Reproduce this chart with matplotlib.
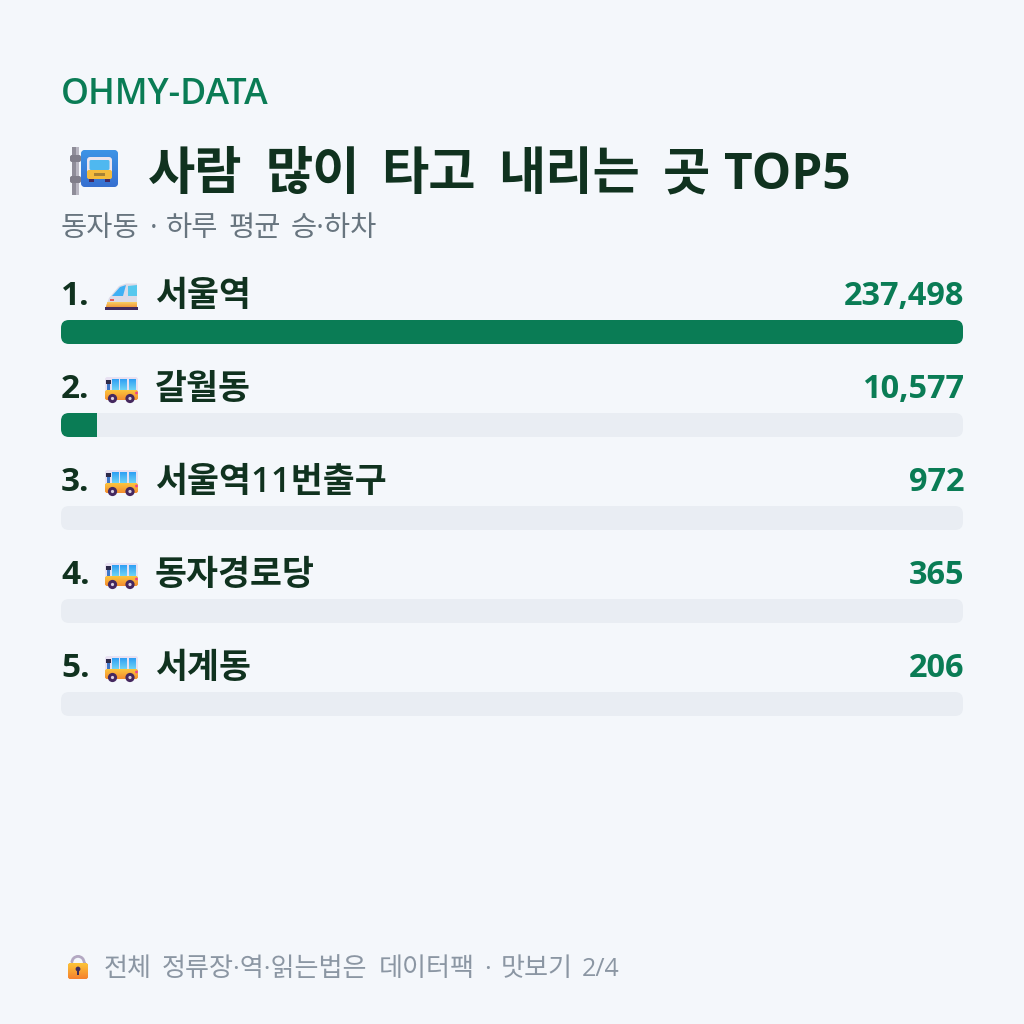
import numpy as np
import matplotlib
matplotlib.use("Agg")
import matplotlib.pyplot as plt
from matplotlib.colors import LinearSegmentedColormap
from matplotlib.patches import FancyBboxPatch, Rectangle, Circle, Polygon, Wedge

plt.rcParams['font.family'] = ['Open Sans', 'Noto Sans CJK KR', 'DejaVu Sans']

names = ['서울역', '갈월동', '서울역11번출구', '동자경로당', '서계동']
riders = [237498, 10577, 972, 365, 206]
ranks = ['1.', '2.', '3.', '4.', '5.']
brand = 'OHMY-DATA'
title_words = ['사람', '많이', '타고', '내리는', '곳', 'TOP5']
subtitle_words = ['동자동', '·', '하루', '평균', '승·하차']
footer_words = ['전체', '정류장·역·읽는법은', '데이터팩', '·', '맛보기', '2/4']

BG = '#f4f7fb'
GREEN = '#0a7c55'
DARK = '#10321f'
GREY = '#68757f'
TRACK = '#e9edf3'
LEFT, RIGHT = 61, 963
BAR_TOPS = [320, 413, 506, 599, 692]
BAR_H = 24

fig = plt.figure(figsize=(10.24, 10.24), dpi=100, facecolor=BG)
ax = fig.add_axes([0, 0, 1, 1])
ax.set_xlim(0, 1024)
ax.set_ylim(1024, 0)
ax.autoscale(False)
ax.axis('off')

# bars live on their own percent scale across the track width
bx = fig.add_axes([LEFT / 1024, 0, (RIGHT - LEFT) / 1024, 1])
bx.set_xlim(0, 100)
bx.set_ylim(1024, 0)
bx.axis('off')
bx.patch.set_alpha(0)
unit = (RIGHT - LEFT) / 100


def px(x, y, s, size, color, weight='normal', ha='left'):
    ax.text(x, y, s, fontsize=size, color=color, fontweight=weight, ha=ha, va='baseline')


def rounded(x, y, w, h, r, color):
    p = FancyBboxPatch((x, y), w, h, boxstyle=f'round,pad=0,rounding_size={r}', fc=color, ec='none')
    ax.add_patch(p)
    return p


def fade(x, y, w, h, c_top, c_bottom, clip=None):
    # vertical colour ramp, optionally cut to a patch
    cmap = LinearSegmentedColormap.from_list('ramp', [c_top, c_bottom])
    im = ax.imshow(np.linspace(0, 1, 32).reshape(-1, 1), cmap=cmap, extent=(x, x + w, y + h, y),
                   aspect='auto', interpolation='bilinear', zorder=2)
    if clip is not None:
        im.set_clip_path(clip)
    return im


def bus(x, y):
    # small side-on bus, 33 wide and 26 tall
    shell = rounded(x, y, 33, 23, 2.5, '#e8e1f2')
    shell.set_zorder(1)
    body = rounded(x, y + 13, 33, 10, 2.5, '#f7b23b')
    fade(x, y + 13, 33, 10, '#fcc63e', '#f48c2f', clip=body)
    ax.add_patch(Rectangle((x + 0.5, y + 3), 5, 3.5, fc='#2c2a4a', ec='none', zorder=3))
    ax.add_patch(Rectangle((x + 1.5, y + 6.5), 3.5, 6.5, fc='#3f78c8', ec='none', zorder=3))
    for wx in (x + 6.5, x + 15, x + 23.5):
        fade(wx, y + 2, 7, 11, '#2f9ff4', '#6fd3f4')
    ax.add_patch(Circle((x + 31.5, y + 16), 1.4, fc='#ee3f8f', ec='none', zorder=3))
    for wx in (x + 7.5, x + 25):
        ax.add_patch(Circle((wx, y + 21.5), 4.6, fc='#45285f', ec='none', zorder=4))
        ax.add_patch(Circle((wx, y + 21.5), 1.6, fc='#d9cfdf', ec='none', zorder=5))


def train(x, y):
    # bullet train heading right on a dark rail
    nose = Polygon([(x + 1, y + 23), (x + 4, y + 15), (x + 14, y + 3), (x + 21, y + 0.5), (x + 32, y + 0.5), (x + 32, y + 23)],
                   fc='#dcdbe8', ec='none', zorder=1)
    ax.add_patch(nose)
    ax.add_patch(Polygon([(x + 7, y + 13), (x + 15, y + 4), (x + 21, y + 2), (x + 18, y + 13)], fc='#3fb0f4', ec='none', zorder=2))
    ax.add_patch(Polygon([(x + 23, y + 3), (x + 32, y + 2), (x + 32, y + 13), (x + 23, y + 13)], fc='#57c8ee', ec='none', zorder=2))
    ax.add_patch(Rectangle((x + 5, y + 15.5), 4, 2, fc='#e85a5a', ec='none', zorder=2))
    low = Polygon([(x + 1, y + 24), (x + 2.5, y + 19), (x + 32, y + 19), (x + 32, y + 24)], fc='#f6b950', ec='none', zorder=2)
    ax.add_patch(low)
    fade(x, y + 19, 33, 5, '#f9ce62', '#f29a3c', clip=low)
    ax.add_patch(Rectangle((x, y + 24), 32.5, 3.2, fc='#432b5e', ec='none', zorder=3))


def stop_sign(x, y):
    # pole with the blue bus stop panel
    pole = Rectangle((x + 2, y), 7, 48, fc='#8f8d99', ec='none', zorder=1)
    ax.add_patch(pole)
    ax.add_patch(Rectangle((x + 6, y), 3, 48, fc='#b9b7c2', ec='none', zorder=1))
    rounded(x, y + 8, 11, 7, 2, '#807e8a').set_zorder(1)
    rounded(x, y + 29, 11, 7, 2, '#807e8a').set_zorder(1)
    panel = rounded(x + 11, y + 3, 37, 37, 4.5, '#3b82dc')
    panel.set_zorder(2)
    fade(x + 11, y + 3, 37, 37, '#3d93e6', '#3670d0', clip=panel)
    shell = rounded(x + 17, y + 10, 25, 21, 3, '#ece4ee')
    shell.set_zorder(3)
    glass = rounded(x + 19.5, y + 13, 20, 10, 1.5, '#4fb8f0')
    glass.set_zorder(4)
    nose = rounded(x + 17, y + 23, 25, 9, 2, '#f4bb3c')
    nose.set_zorder(4)
    ax.add_patch(Rectangle((x + 24, y + 26), 11, 3, fc='#a58136', ec='none', zorder=5))
    ax.add_patch(Rectangle((x + 19, y + 32), 5, 2.5, fc='#45285f', ec='none', zorder=5))
    ax.add_patch(Rectangle((x + 35, y + 32), 5, 2.5, fc='#45285f', ec='none', zorder=5))


def lock(x, y):
    ax.add_patch(Wedge((x + 10, y + 7.5), 7.5, 180, 360, width=2.8, fc='#b3a8c2', ec='none', zorder=1))
    ax.add_patch(Rectangle((x + 2.5, y + 7), 2.8, 3, fc='#b3a8c2', ec='none', zorder=1))
    ax.add_patch(Rectangle((x + 14.7, y + 7), 2.8, 3, fc='#b3a8c2', ec='none', zorder=1))
    body = rounded(x, y + 8, 20, 16, 2.5, '#f8a13a')
    body.set_zorder(2)
    fade(x, y + 8, 20, 16, '#fcc437', '#f5812f', clip=body)
    ax.add_patch(Circle((x + 10, y + 14), 2.4, fc='#3d2c5c', ec='none', zorder=4))
    ax.add_patch(Rectangle((x + 9, y + 14), 2, 6, fc='#3d2c5c', ec='none', zorder=4))


px(LEFT, 103.5, brand, 25.7, GREEN, 'semibold')

stop_sign(70, 147)
title_x = [148, 266, 381, 498, 663, 724]
for wx, w in zip(title_x, title_words):
    px(wx, 189, w, 35.7 if w == 'TOP5' else 37, DARK, 'bold')

subtitle_x = [61, 150, 166, 229, 291]
for wx, w in zip(subtitle_x, subtitle_words):
    px(wx, 236, w, 20.5, GREY)

top = riders[0]
for i, (rank, name, val) in enumerate(zip(ranks, names, riders)):
    y = BAR_TOPS[i]
    px(LEFT, y - 15, rank, 24, DARK, 'bold')
    if i == 0:
        train(105, y - 37)
    else:
        bus(105, y - 36)
    px(155, y - 14, name, 25, DARK, 'semibold')
    px(RIGHT + 1, y - 15, f'{val:,}', 23.4, GREEN, 'bold', ha='right')

    track = FancyBboxPatch((0, y), 100, BAR_H, boxstyle=f'round,pad=0,rounding_size={8 / unit}',
                           mutation_aspect=unit, fc=TRACK, ec='none')
    bx.add_patch(track)
    # fill width is a whole percent of the top value
    pct = int(val / top * 100)
    if pct > 0:
        fill = Rectangle((0, y), pct, BAR_H, fc=GREEN, ec='none')
        bx.add_patch(fill)
        fill.set_clip_path(track)

lock(68, 955)
footer_x = [104, 162, 379, 484, 501, 582]
for wx, w in zip(footer_x, footer_words):
    px(wx, 976, w, 18 if w == '2/4' else 18.8, '#8b96a3')

fig.savefig('out.png', dpi=100, facecolor=BG)
